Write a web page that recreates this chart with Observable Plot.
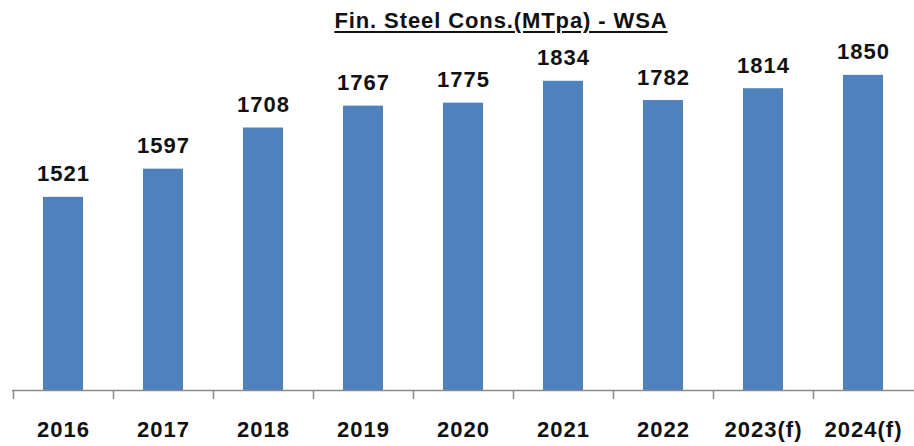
<!DOCTYPE html>
<html>
<head>
<meta charset="utf-8">
<script src="https://cdn.jsdelivr.net/npm/d3@7"></script>
<script src="https://cdn.jsdelivr.net/npm/@observablehq/plot@0.6"></script>
<style>
  html, body { margin: 0; padding: 0; background: #fff; }
  #title {
    width: 914px; box-sizing: border-box; padding-left: 88px;
    height: 40px; padding-top: 8px;
    text-align: center; font-family: "Liberation Sans", Arial, sans-serif;
    font-weight: bold; font-size: 22px; letter-spacing: 0.9px; color: #111;
    text-decoration: underline; text-underline-offset: 3px; text-decoration-thickness: 2px;
    line-height: 26px;
  }
</style>
</head>
<body>
<div id="title">Fin. Steel Cons.(MTpa) - WSA</div>
<div id="chart"></div>
<script>
const years = ["2016", "2017", "2018", "2019", "2020", "2021", "2022", "2023(f)", "2024(f)"];
const values = [1521, 1597, 1708, 1767, 1775, 1834, 1782, 1814, 1850];
const yDomain = [1000, 1944];

const data = years.map((year, i) => ({year, value: values[i]}));
const font = "Liberation Sans, Arial, sans-serif";

function boundaryTicks(index, scales, v, dims) {
  const x = scales.x, y = scales.y;
  const step = x(years[1]) - x(years[0]);
  let bw = typeof x.bandwidth === "function" ? x.bandwidth() : x.bandwidth;
  if (!(bw > 0)) bw = step * 0.4;
  const gap = (step - bw) / 2;
  const y0 = y(yDomain[0]);
  const g = d3.create("svg:g");
  for (const c of years) {
    const xb = Math.round(x(c) - gap) + 0.5;
    g.append("line").attr("x1", xb).attr("x2", xb).attr("y1", y0).attr("y2", y0 + 9)
      .attr("stroke", "#8a8a8a").attr("stroke-width", 1.5);
  }
  return g.node();
}

const chart = Plot.plot({
  width: 914,
  height: 406,
  marginLeft: 12,
  marginRight: 0,
  marginTop: 0,
  marginBottom: 56,
  style: {fontFamily: font, background: "#fff"},
  x: {domain: years, paddingInner: 0.6, paddingOuter: 0.3, label: null},
  y: {domain: yDomain, axis: null},
  marks: [
    Plot.barY(data, {x: "year", y1: yDomain[0], y2: "value", fill: "#4F81BD"}),
    Plot.ruleY([yDomain[0]], {stroke: "#8a8a8a", strokeWidth: 1.5}),
    boundaryTicks,
    Plot.text(data, {x: "year", y: "value", text: d => String(d.value), lineAnchor: "bottom", dy: -16,
      fontSize: 22, fontWeight: "bold", fill: "#111"}),
    Plot.axisX({tickSize: 0, tickPadding: 31, fontSize: 22, fontWeight: "bold", fill: "#111", label: null})
  ]
});
chart.querySelectorAll("text").forEach(t => t.style.letterSpacing = "1px");
document.getElementById("chart").appendChild(chart);
</script>
</body>
</html>
